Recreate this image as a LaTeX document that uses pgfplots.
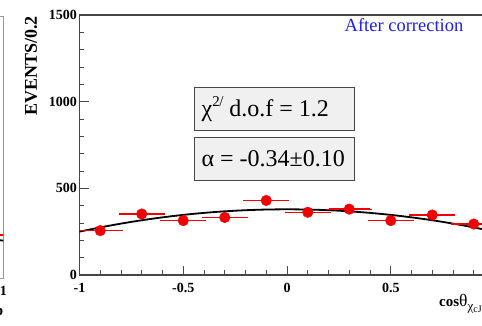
\documentclass[border=0pt]{standalone}
\usepackage{fontspec}
\setmainfont{Liberation Serif}
\usepackage{pgfplots}
\usepackage{pgfplotstable}
\pgfplotsset{compat=1.18}

\definecolor{framegray}{RGB}{70,70,70}
\definecolor{panelgray}{RGB}{150,150,150}
\definecolor{boxfill}{RGB}{240,240,240}
\definecolor{titleblue}{RGB}{30,30,235}
\definecolor{pointred}{RGB}{240,0,0}

% measured yields per 0.2 bin of cos(theta), with the half bin width
\pgfplotstableread{
x     y    ex
-0.9  256  0.1
-0.7  352  0.1
-0.5  314  0.1
-0.3  332  0.1
-0.1  430  0.1
 0.1  362  0.1
 0.3  380  0.1
 0.5  314  0.1
 0.7  346  0.1
 0.9  294  0.1
}\datatable

% fitted curve N(1 + alpha cos^2), N = 379, alpha = -0.34
\pgfplotstableread{
x     y
-1.0  250.1
-0.9  274.6
-0.8  296.5
-0.7  315.9
-0.6  332.6
-0.5  346.8
-0.4  358.4
-0.3  367.4
-0.2  373.8
-0.1  377.7
 0.0  379.0
 0.1  377.7
 0.2  373.8
 0.3  367.4
 0.4  358.4
 0.5  346.8
 0.6  332.6
 0.7  315.9
 0.8  296.5
 0.9  274.6
 1.0  250.1
}\fittable

% neighbouring panel: last bin and fit tail
\pgfplotstableread{
x    y    ex
0.9  246  0.1
}\neighbourdata
\pgfplotstableread{
x    y
0.8  238
0.9  226
1.0  214
}\neighbourfit

\pgfplotsset{
  datapoints/.style={only marks, mark=*, mark size=5.3pt, color=pointred,
    mark options={fill=pointred, draw=pointred},
    error bars/.cd, x dir=both, x explicit,
    error bar style={draw=pointred, color=pointred, line width=1.3pt},
    error mark options={draw=pointred, color=pointred, mark size=2.2pt, line width=1.1pt}},
}

\begin{document}
\begin{tikzpicture}
\useasboundingbox (-79.5pt,-50pt) rectangle (402.5pt,275pt);
\clip (-79.5pt,-50pt) rectangle (402.5pt,275pt);

% neighbouring panel (only its right edge shows)
\begin{axis}[
  at={(-76pt,-3pt)}, anchor=south east,
  scale only axis, width=415pt, height=262pt,
  xmin=-1, xmax=1, ymin=0, ymax=1500,
  axis line style={panelgray, line width=1pt},
  xtick={1}, xticklabels={1}, ytick=\empty,
  xtick pos=bottom, tick align=inside,
  major tick length=9pt, tick style={panelgray},
  ticklabel style={font=\bfseries\fontsize{14}{16}\selectfont},
  xticklabel style={yshift=-5pt},
]
\addplot[black, line width=1.8pt, smooth] table[x=x, y=y] {\neighbourfit};
\addplot[datapoints] table[x=x, y=y, x error=ex] {\neighbourdata};
\end{axis}

\begin{axis}[
  at={(0pt,0pt)}, anchor=south west,
  scale only axis, width=415pt, height=260pt,
  xmin=-1, xmax=1, ymin=0, ymax=1500,
  axis line style={framegray, line width=1.1pt},
  tick style={framegray, line width=0.8pt},
  tick align=inside,
  xtick={-1,-0.5,0,0.5,1}, xticklabels={-1,-0.5,0,0.5,1},
  ytick={0,500,1000,1500}, yticklabels={0,500,1000,1500},
  minor x tick num=4, minor y tick num=4,
  major tick length=9pt, minor tick length=5pt,
  xtick pos=bottom, ytick pos=left,
  ticklabel style={font=\bfseries\fontsize{14}{16}\selectfont},
  yticklabel style={xshift=1pt},
  xticklabel style={yshift=-5pt},
]
\addplot[black, line width=1.8pt, smooth] table[x=x, y=y] {\fittable};
\addplot[datapoints] table[x=x, y=y, x error=ex] {\datatable};

\node[text=titleblue, font=\fontsize{18.5}{20}\selectfont]
  at (rel axis cs:0.782,0.9615) {After correction};

% fit result boxes
\node[draw=framegray, fill=boxfill, line width=0.8pt,
  minimum width=160pt, minimum height=42.3pt, inner sep=0pt] (chibox)
  at (rel axis cs:0.4694,0.639) {};
\node[anchor=west, inner sep=0pt, font=\fontsize{24}{26}\selectfont]
  at ([xshift=7.5pt]chibox.west)
  {χ\raisebox{0.42em}{\fontsize{15}{15}\selectfont 2\kern-0.5pt/}\ d.o.f = 1.2};
\node[draw=framegray, fill=boxfill, line width=0.8pt,
  minimum width=160pt, minimum height=42.3pt, inner sep=0pt] (alphabox)
  at (rel axis cs:0.4694,0.447) {};
\node[anchor=west, inner sep=0pt, font=\fontsize{24}{26}\selectfont]
  at ([xshift=7.5pt]alphabox.west)
  {α = -0.34±0.10};
\end{axis}

% axis titles
\node[rotate=90, anchor=east, inner sep=0pt,
  font=\bfseries\fontsize{18}{18}\selectfont]
  at (-48.5pt,259pt) {EVENTS/0.2};
\node[anchor=base west, inner sep=0pt, font=\bfseries\fontsize{15}{16}\selectfont]
  at (359.5pt,-31pt)
  {cos{\mdseries\fontsize{17.5}{17.5}\selectfont θ}\raisebox{-4pt}{\mdseries\fontsize{13}{13}\selectfont χ\raisebox{-2.5pt}{\fontsize{10}{10}\selectfont cJ}}};
\node[anchor=base east, inner sep=0pt, font=\bfseries\fontsize{15}{16}\selectfont]
  at (-76pt,-40pt) {p};
\end{tikzpicture}
\end{document}
